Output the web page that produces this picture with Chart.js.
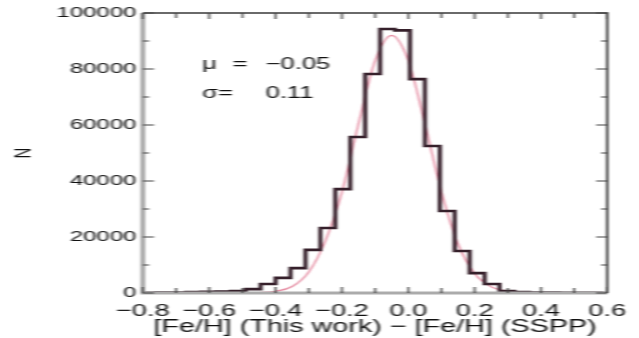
<!DOCTYPE html>
<html>
<head>
<meta charset="utf-8">
<script src="https://cdn.jsdelivr.net/npm/chart.js@4.4.0/dist/chart.umd.min.js"></script>
<style>
  html, body { margin: 0; padding: 0; background: #fff; overflow: hidden; }
  #wrap { width: 639px; height: 338px; }
  /* the original figure is stretched horizontally, so draw narrow and stretch */
  #chart { transform-origin: 0 0; transform: scaleX(1.5975); filter: blur(0.6px); }
</style>
</head>
<body>
<div id="wrap"><canvas id="chart" width="400" height="338"></canvas></div>
<script>
// Histogram: left bin edges (last value closes the final bin) and counts
const binEdges = [-0.805, -0.76, -0.715, -0.67, -0.625, -0.58, -0.535, -0.49, -0.445, -0.4,
  -0.355, -0.31, -0.265, -0.22, -0.175, -0.13, -0.085, -0.04, 0.005, 0.05, 0.095, 0.14,
  0.185, 0.23, 0.275, 0.32, 0.365, 0.41, 0.455, 0.5, 0.545, 0.59];
const binCounts = [100, 150, 200, 300, 400, 500, 700, 1400, 3200, 5400,
  8900, 15400, 23200, 37100, 55700, 78200, 94300, 93800, 76400, 52500, 29300, 15000,
  7100, 3200, 700, 300, 200, 150, 100, 80, 50];

// Gaussian fit curve
const fitX = [-0.8, -0.6, -0.5, -0.45, -0.4, -0.35, -0.3, -0.25, -0.2, -0.15, -0.1, -0.05,
  0, 0.05, 0.1, 0.15, 0.2, 0.25, 0.3, 0.35, 0.4, 0.5, 0.6];
const fitY = [0, 0, 50, 150, 600, 2300, 7500, 18500, 36000, 60500, 83000, 92000,
  83000, 60500, 36000, 17500, 7000, 2200, 600, 150, 50, 0, 0];

const fitText = [['μ', '=', '−0.05'], ['σ=', '', '0.11']];

const histData = binEdges.map((x, i) => ({ x: x, y: binCounts[Math.min(i, binCounts.length - 1)] }));
const fitData = fitX.map((x, i) => ({ x: x, y: fitY[i] }));

const fontFamily = 'Liberation Sans, Arial, sans-serif';
const yTickFont = { family: fontFamily, size: 15 };
const xTickFont = { family: fontFamily, size: 17 };
const titleFont = { family: fontFamily, size: 18 };

// Box round the plot with inward ticks on all four sides
const framePlugin = {
  id: 'frame',
  afterDatasetsDraw(chart) {
    const { ctx, chartArea: a, scales } = chart;
    ctx.save();
    ctx.lineCap = 'butt';
    // left and bottom axes look like soft grey bands
    ctx.strokeStyle = '#ababab';
    ctx.lineWidth = 3;
    ctx.beginPath();
    ctx.moveTo(a.left, a.top); ctx.lineTo(a.left, a.bottom + 1.5);
    ctx.moveTo(a.left - 1.5, a.bottom); ctx.lineTo(a.right, a.bottom);
    ctx.stroke();
    ctx.strokeStyle = '#3a3a3a';
    ctx.lineWidth = 1.6;
    ctx.beginPath();
    ctx.moveTo(a.left, a.top); ctx.lineTo(a.right, a.top); ctx.lineTo(a.right, a.bottom);
    ctx.stroke();

    ctx.strokeStyle = '#444';
    ctx.lineWidth = 1.2;
    ctx.beginPath();
    scales.x.ticks.forEach(t => {
      const px = scales.x.getPixelForValue(t.value);
      const len = Math.round(t.value * 10) % 2 === 0 ? 6 : 5;
      ctx.moveTo(px, a.bottom); ctx.lineTo(px, a.bottom - len);
      ctx.moveTo(px, a.top); ctx.lineTo(px, a.top + len);
    });
    scales.y.ticks.forEach(t => {
      const py = scales.y.getPixelForValue(t.value);
      const len = t.value % 20000 === 0 ? 7 : 4;
      ctx.moveTo(a.left, py); ctx.lineTo(a.left + len, py);
      ctx.moveTo(a.right, py); ctx.lineTo(a.right - len, py);
    });
    ctx.stroke();
    ctx.restore();
  }
};

// Fit parameters written inside the plot
const notePlugin = {
  id: 'note',
  afterDraw(chart) {
    const { ctx, scales: { x, y } } = chart;
    const cols = [-0.621, -0.53, -0.43];
    const rows = [81400, 71100];
    ctx.save();
    ctx.fillStyle = '#111';
    ctx.font = '16px "Liberation Sans", Arial, sans-serif';
    ctx.textBaseline = 'middle';
    fitText.forEach((row, r) => {
      row.forEach((s, c) => {
        ctx.fillText(s, x.getPixelForValue(cols[c]), y.getPixelForValue(rows[r]));
      });
    });
    ctx.restore();
  }
};

new Chart(document.getElementById('chart'), {
  type: 'line',
  data: {
    datasets: [{
      label: 'Histogram',
      data: histData,
      stepped: true,
      borderColor: '#36202b',
      borderWidth: 2.6,
      pointRadius: 0,
      fill: false
    }, {
      label: 'Gaussian fit',
      data: fitData,
      borderColor: '#e58aa0',
      borderWidth: 1.2,
      pointRadius: 0,
      cubicInterpolationMode: 'monotone',
      fill: false
    }]
  },
  options: {
    responsive: false,
    animation: false,
    layout: { padding: { left: 0, right: 16.9, top: 10, bottom: 0 } },
    plugins: {
      legend: { display: false },
      tooltip: { enabled: false }
    },
    scales: {
      x: {
        type: 'linear',
        min: -0.8,
        max: 0.6,
        grid: { display: false, drawTicks: false },
        border: { display: false },
        afterFit: s => { s.height = 45; },
        ticks: {
          stepSize: 0.1,
          autoSkip: false,
          maxRotation: 0,
          padding: 8,
          color: '#111',
          font: xTickFont,
          callback: v => {
            const k = Math.round(v * 10);
            if (k % 2 !== 0) return '';
            return (k < 0 ? '−' : '') + Math.abs(k / 10).toFixed(1);
          }
        },
        title: {
          display: true,
          text: '[Fe/H] (This work) − [Fe/H] (SSPP)',
          color: '#111',
          font: titleFont,
          padding: { top: 0, bottom: 0 }
        }
      },
      y: {
        min: 0,
        max: 100000,
        grid: { display: false, drawTicks: false },
        border: { display: false },
        afterFit: s => { s.width = 89.4; },
        ticks: {
          stepSize: 10000,
          autoSkip: false,
          padding: 4,
          color: '#111',
          font: yTickFont,
          callback: v => (v % 20000 === 0 ? String(v) : '')
        },
        title: {
          display: true,
          text: 'N',
          color: '#111',
          font: yTickFont,
          padding: { top: 6, bottom: 0 }
        }
      }
    }
  },
  plugins: [framePlugin, notePlugin]
});
</script>
</body>
</html>
